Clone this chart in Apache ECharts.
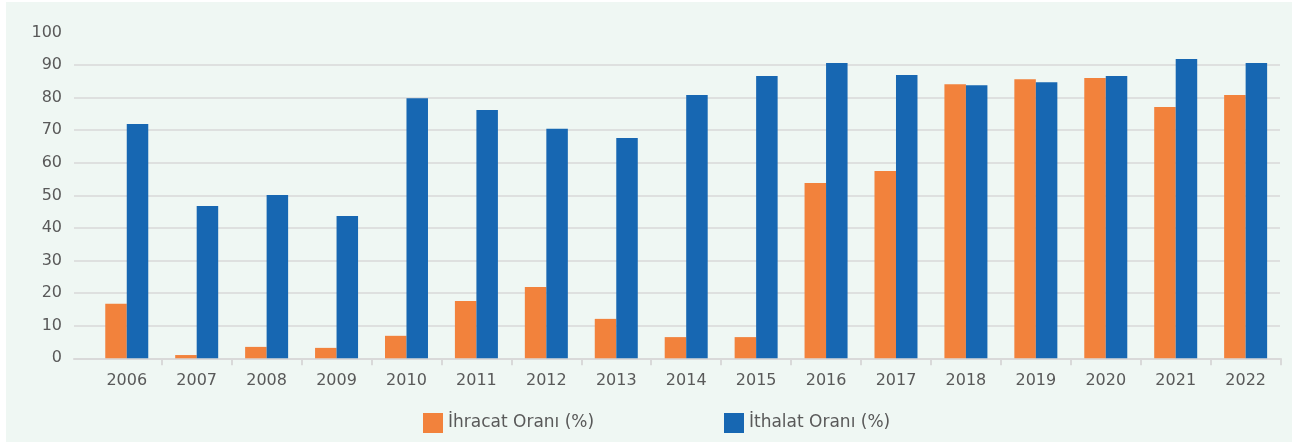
<!DOCTYPE html>
<html>
<head>
<meta charset="utf-8">
<script src="https://cdn.jsdelivr.net/npm/echarts@6/dist/echarts.min.js"></script>
<style>
  html, body { margin: 0; padding: 0; background: #ffffff; }
  #chart { position: absolute; left: 6px; top: 2px; width: 1286px; height: 440px; }
</style>
</head>
<body>
<div id="chart"></div>
<script>
// yıllar ve oranlar (%)
var years = ['2006','2007','2008','2009','2010','2011','2012','2013','2014','2015','2016','2017','2018','2019','2020','2021','2022'];
var ihracat = [16.7, 1.0, 3.5, 3.2, 6.9, 17.6, 21.9, 12.1, 6.5, 6.5, 53.8, 57.5, 84.1, 85.6, 86.0, 77.1, 80.8];
var ithalat = [71.9, 46.7, 50.1, 43.7, 79.8, 76.2, 70.4, 67.6, 80.8, 86.6, 90.6, 86.9, 83.8, 84.7, 86.6, 91.8, 90.6];
var yTicks = [0, 10, 20, 30, 40, 50, 60, 70, 80, 90, 100];

var textColor = '#595959';
var gridColor = '#d9d9d9';
var fontFamily = 'DejaVu Sans';

var myChart = echarts.init(document.getElementById('chart'));
var option = {
    backgroundColor: '#eff7f3',
    textStyle: { fontFamily: fontFamily },
    animation: false,
    legend: [
        {
            left: 417, top: 411, padding: 0,
            itemWidth: 20, itemHeight: 20, itemGap: 6,
            icon: 'rect',
            data: ['İhracat Oranı (%)'],
            textStyle: { color: textColor, fontSize: 17, fontFamily: fontFamily }
        },
        {
            left: 718, top: 411, padding: 0,
            itemWidth: 20, itemHeight: 20, itemGap: 6,
            icon: 'rect',
            data: ['İthalat Oranı (%)'],
            textStyle: { color: textColor, fontSize: 17, fontFamily: fontFamily }
        }
    ],
    grid: [
        { left: 68, right: 12, top: 30.4, bottom: 83.7 },
        { left: 85.8, right: 11.4, top: 30.4, bottom: 83.7 }
    ],
    xAxis: [
        {
            gridIndex: 0,
            type: 'category',
            data: [''],
            axisLine: { show: true, lineStyle: { color: gridColor, width: 2 } },
            axisTick: { show: false },
            axisLabel: { show: false }
        },
        {
            gridIndex: 1,
            type: 'category',
            data: years,
            axisLine: { show: false },
            axisTick: {
                show: true, length: 7,
                interval: function (i) { return i > 0; },
                lineStyle: { color: gridColor, width: 2 }
            },
            axisLabel: { color: textColor, fontSize: 16, margin: 15 }
        }
    ],
    yAxis: [
        {
            gridIndex: 0,
            type: 'value',
            min: yTicks[0],
            max: yTicks[yTicks.length - 1],
            interval: 10,
            axisLine: { show: false },
            axisTick: { show: false },
            axisLabel: { color: textColor, fontSize: 16, margin: 12 },
            splitLine: { show: true, showMaxLine: false, showMinLine: false, lineStyle: { color: gridColor, width: 1.5 } }
        },
        {
            gridIndex: 1,
            type: 'value',
            min: 0,
            max: 100,
            show: false,
            splitLine: { show: false }
        }
    ],
    series: [
        {
            name: 'İhracat Oranı (%)',
            type: 'bar',
            xAxisIndex: 1,
            yAxisIndex: 1,
            barWidth: 21.5,
            barGap: '0%',
            itemStyle: { color: '#f2823c' },
            data: ihracat
        },
        {
            name: 'İthalat Oranı (%)',
            type: 'bar',
            xAxisIndex: 1,
            yAxisIndex: 1,
            barWidth: 21.5,
            barGap: '0%',
            itemStyle: { color: '#1767b2' },
            data: ithalat
        }
    ]
};
myChart.setOption(option);
</script>
</body>
</html>
